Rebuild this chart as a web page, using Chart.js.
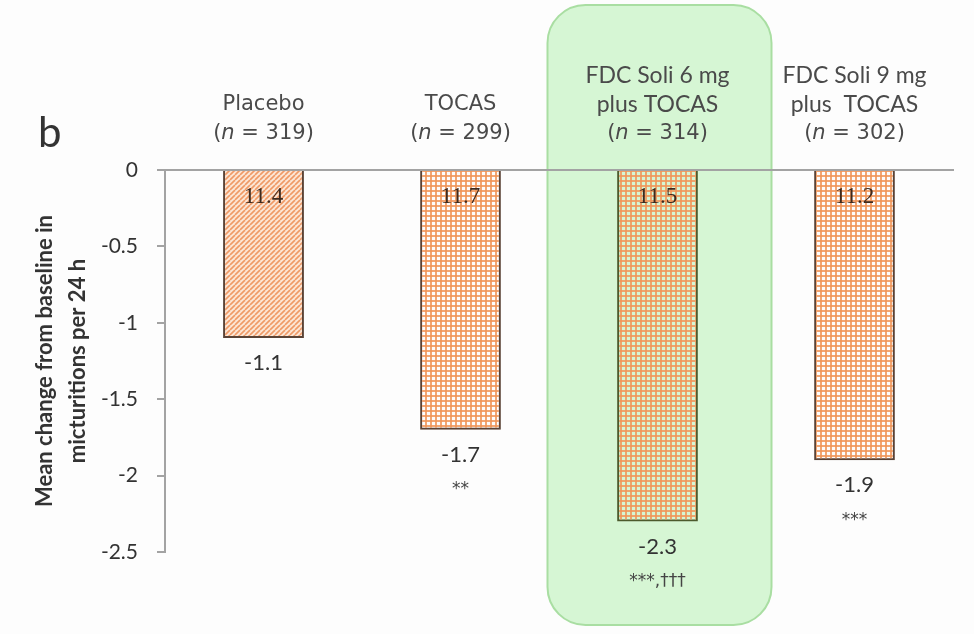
<!DOCTYPE html>
<html lang="en">
<head>
    <meta charset="UTF-8">
    <title>Mean change in micturitions</title>
    <script src="https://cdn.jsdelivr.net/npm/chart.js"></script>
    <style>
        body {
            margin: 0;
            background: #fdfdfd;
        }
        .chart-box {
            width: 974px;
            height: 634px;
            position: relative;
        }
    </style>
</head>
<body>
    <div class="chart-box">
        <canvas id="micturitions"></canvas>
    </div>

    <script>
        // values
        const groupNames = [['Placebo'], ['TOCAS'], ['FDC Soli 6 mg', 'plus TOCAS'], ['FDC Soli 9 mg', 'plus  TOCAS']];
        const groupSizes = [319, 299, 314, 302];
        const meanChange = [-1.1, -1.7, -2.3, -1.9];
        const baselineMean = [11.4, 11.7, 11.5, 11.2];
        const significance = ['', '**', '***,\u2020\u2020\u2020', '***'];
        const yTicks = [0, -0.5, -1, -1.5, -2, -2.5];
        const highlighted = 2;

        function makeStripes() {
            const c = document.createElement('canvas');
            c.width = 5; c.height = 5;
            const g = c.getContext('2d');
            g.fillStyle = '#fce6d6';
            g.fillRect(0, 0, 5, 5);
            g.strokeStyle = '#ef9a66';
            g.lineWidth = 1.6;
            for (let k = -5; k <= 10; k += 5) {
                g.beginPath();
                g.moveTo(k, 5);
                g.lineTo(k + 5, 0);
                g.stroke();
            }
            return g.createPattern(c, 'repeat');
        }

        function makeGrid() {
            const c = document.createElement('canvas');
            c.width = 5; c.height = 5;
            const g = c.getContext('2d');
            g.fillStyle = 'rgba(240, 150, 90, 0.85)';
            g.fillRect(0, 0, 5, 2);
            g.fillRect(0, 0, 2, 5);
            return g.createPattern(c, 'repeat');
        }

        const stripes = makeStripes();
        const grid = makeGrid();

        // green rounded box behind the 6 mg group
        const highlightBox = {
            id: 'highlightBox',
            beforeDraw(chart) {
                const ctx = chart.ctx;
                const cx = chart.scales.x.getPixelForValue(highlighted);
                const x = cx - 110, y = 5, w = 224, h = 620, r = 38;
                ctx.save();
                ctx.beginPath();
                ctx.roundRect(x, y, w, h, r);
                ctx.fillStyle = '#d6f6d4';
                ctx.fill();
                ctx.lineWidth = 2;
                ctx.strokeStyle = '#a9dea2';
                ctx.stroke();
                ctx.restore();
            }
        };

        const barLabels = {
            id: 'barLabels',
            afterDatasetsDraw(chart) {
                const ctx = chart.ctx;
                const bars = chart.getDatasetMeta(0).data;
                ctx.save();
                ctx.textAlign = 'center';
                ctx.textBaseline = 'middle';
                bars.forEach((bar, i) => {
                    ctx.fillStyle = '#3e2a1e';
                    ctx.font = '23px "Liberation Serif"';
                    ctx.fillText(baselineMean[i].toFixed(1), bar.x, bar.base + 26);

                    ctx.fillStyle = '#333';
                    ctx.font = '22px Lato';
                    ctx.fillText(meanChange[i].toFixed(1), bar.x, bar.y + 25);

                    ctx.fillStyle = '#444';
                    ctx.font = '17px "DejaVu Sans"';
                    ctx.fillText(significance[i], bar.x, bar.y + 60);
                });
                ctx.restore();
            }
        };

        // group names and n above the zero line
        const groupHeaders = {
            id: 'groupHeaders',
            afterDraw(chart) {
                const ctx = chart.ctx;
                const xs = chart.scales.x;
                const nFont = '21px "DejaVu Sans"';
                ctx.save();
                ctx.textBaseline = 'middle';
                ctx.fillStyle = '#4a4a4a';
                groupNames.forEach((lines, i) => {
                    const cx = xs.getPixelForValue(i);
                    const nY = 134;
                    ctx.textAlign = 'center';
                    ctx.font = lines.length > 1 ? '23px Lato' : nFont;
                    lines.forEach((t, k) => {
                        ctx.fillText(t, cx, nY - 29 * (lines.length - k));
                    });
                    // "(n = 319)" with italic n
                    const parts = [['(', nFont], ['n', 'italic ' + nFont], [' = ' + groupSizes[i] + ')', nFont]];
                    let total = 0;
                    parts.forEach(p => { ctx.font = p[1]; total += ctx.measureText(p[0]).width; });
                    let x = cx - total / 2;
                    ctx.textAlign = 'left';
                    parts.forEach(p => {
                        ctx.font = p[1];
                        ctx.fillText(p[0], x, nY);
                        x += ctx.measureText(p[0]).width;
                    });
                });
                ctx.font = '42px Lato';
                ctx.fillStyle = '#333';
                ctx.textAlign = 'left';
                ctx.textBaseline = 'alphabetic';
                ctx.fillText('b', 38, 147);
                ctx.restore();
            }
        };

        new Chart(document.getElementById('micturitions'), {
            type: 'bar',
            data: {
                labels: groupNames.map(n => n.join(' ')),
                datasets: [{
                    data: meanChange,
                    backgroundColor: meanChange.map((v, i) => i === 0 ? stripes : grid),
                    borderColor: meanChange.map((v, i) => i === highlighted ? '#4c5a2c' : '#5a4336'),
                    borderWidth: 2,
                    barPercentage: 0.41,
                    categoryPercentage: 1
                }]
            },
            options: {
                responsive: true,
                maintainAspectRatio: false,
                animation: false,
                layout: { padding: { top: 170, right: 21, bottom: 82, left: 0 } },
                plugins: {
                    legend: { display: false },
                    tooltip: { enabled: false }
                },
                scales: {
                    x: {
                        position: 'top',
                        grid: { display: false },
                        ticks: { display: false },
                        border: { display: true, color: '#a3a3a3', width: 2 },
                        afterFit(scale) { scale.height = 0; }
                    },
                    y: {
                        min: -2.5,
                        max: 0,
                        afterFit(scale) { scale.width = 165; },
                        afterBuildTicks(scale) { scale.ticks = yTicks.map(v => ({ value: v })); },
                        grid: {
                            drawOnChartArea: false,
                            tickLength: 8,
                            tickColor: '#a3a3a3',
                            lineWidth: 2
                        },
                        border: { color: '#a3a3a3', width: 2 },
                        ticks: {
                            padding: 19,
                            color: '#333',
                            font: { family: 'Lato', size: 21 },
                            callback: v => String(v)
                        },
                        title: {
                            display: true,
                            text: ['Mean change from baseline in', 'micturitions per 24 h'],
                            color: '#333',
                            font: { family: 'Lato', size: 22, weight: 'bold', lineHeight: 1.5 },
                            padding: { top: 28, bottom: 0 }
                        }
                    }
                }
            },
            plugins: [highlightBox, barLabels, groupHeaders]
        });
    </script>
</body>
</html>
